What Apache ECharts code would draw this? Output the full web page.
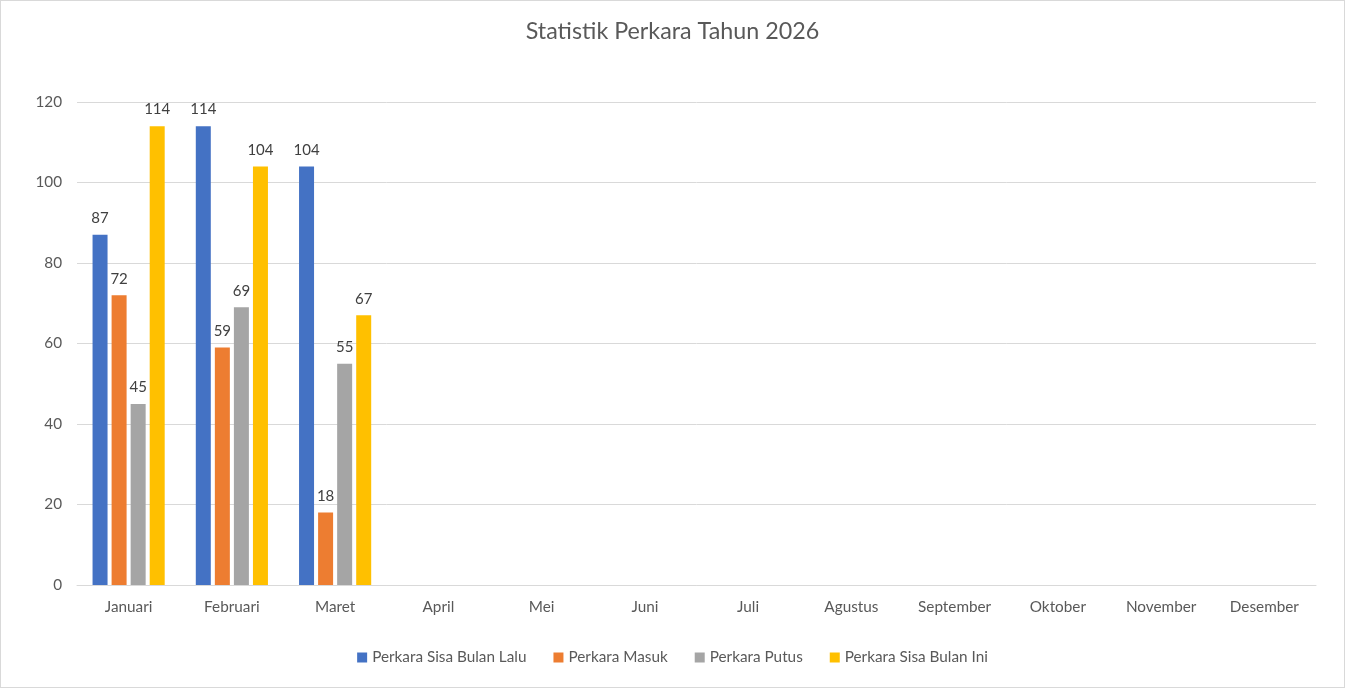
<!DOCTYPE html>
<html><head><meta charset="utf-8">
<script src="https://cdn.jsdelivr.net/npm/echarts@6/dist/echarts.min.js"></script>
<style>html,body{margin:0;padding:0;background:#fff}#c{width:1345px;height:688px;box-sizing:border-box;border:1px solid #D9D9D9}</style>
</head><body><div id="c"></div>
<script>
const categories = ['Januari','Februari','Maret','April','Mei','Juni','Juli','Agustus','September','Oktober','November','Desember'];
const sisaBulanLalu = [87,114,104,null,null,null,null,null,null,null,null,null];
const masuk = [72,59,18,null,null,null,null,null,null,null,null,null];
const putus = [45,69,55,null,null,null,null,null,null,null,null,null];
const sisaBulanIni = [114,104,67,null,null,null,null,null,null,null,null,null];
const yTicks = {min:0,max:120,interval:20};
const seriesNames = ['Perkara Sisa Bulan Lalu','Perkara Masuk','Perkara Putus','Perkara Sisa Bulan Ini'];
const colors = ['#4472C4','#ED7D31','#A5A5A5','#FFC000'];
const font = 'Lato, sans-serif';
const chart = echarts.init(document.getElementById('c'));
const mk = (name, data, color) => ({
  name, type:'bar', data, barWidth:15, barGap:'27%',
  itemStyle:{color},
  label:{show:true, position:'top', distance:9, color:'#404040', fontSize:15, fontFamily:font},
});
chart.setOption({
  animation:false,
  color: colors,
  title:{text:'Statistik Perkara Tahun 2026', left:'center', top:14, textStyle:{color:'#595959', fontSize:23.3, fontWeight:'normal', fontFamily:font}},
  legend:{bottom:17, left:'center', itemWidth:10, itemHeight:10, itemGap:27, icon:'rect', textStyle:{color:'#595959', fontSize:15.3, fontFamily:font}},
  grid:{left:76, right:28, top:101, bottom:102, containLabel:false},
  xAxis:{type:'category', data:categories, axisTick:{show:false}, axisLine:{lineStyle:{color:'#D9D9D9'}},
    axisLabel:{color:'#595959', fontSize:15.3, margin:15, fontFamily:font}},
  yAxis:{type:'value', min:yTicks.min, max:yTicks.max, interval:yTicks.interval,
    axisLine:{show:false}, axisTick:{show:false}, splitLine:{lineStyle:{color:'#D9D9D9'}},
    axisLabel:{color:'#595959', fontSize:15.3, margin:15, fontFamily:font}},
  series:[mk(seriesNames[0],sisaBulanLalu,colors[0]),mk(seriesNames[1],masuk,colors[1]),mk(seriesNames[2],putus,colors[2]),mk(seriesNames[3],sisaBulanIni,colors[3])]
});
</script></body></html>
